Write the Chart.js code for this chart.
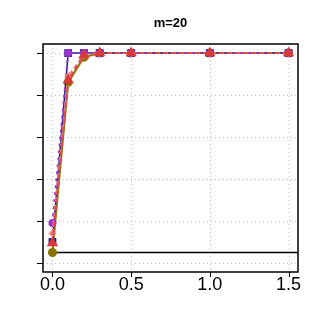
<!DOCTYPE html>
<html>
<head>
<meta charset="utf-8">
<script src="https://cdn.jsdelivr.net/npm/chart.js@4.4.1/dist/chart.umd.min.js"></script>
<style>
  html, body { margin: 0; padding: 0; background: #fff; }
  #wrap { width: 321px; height: 327px; }
</style>
</head>
<body>
<div id="wrap"><canvas id="c" width="321" height="327"></canvas></div>
<script>
const title = 'm=20';
const xValues = [0, 0.1, 0.2, 0.3, 0.5, 1.0, 1.5];
const xTicks = [0, 0.5, 1.0, 1.5];
const xTickLabels = ['0.0', '0.5', '1.0', '1.5'];
const yTicks = [0, 0.2, 0.4, 0.6, 0.8, 1.0];
const alphaLevel = 0.05;

const purpleVals = [0.19, 1, 1, 1, 1, 1, 1];
const pinkVals = [0.14, 0.89, 0.99, 1, 1, 1, 1];
const oliveVals = [0.05, 0.86, 0.98, 1, 1, 1, 1];
const blueVals = [0.10, 1, 1, 1, 1, 1, 1];
const redVals = [0.095, 0.87, 0.99, 1, 1, 1, 1];

const toPts = vals => vals.map((v, i) => ({ x: xValues[i], y: v }));

// axes, grid, box, tick marks and labels drawn like base R graphics
const frame = {
    id: 'frame',
    beforeDatasetsDraw(chart) {
        const { ctx, chartArea: a, scales: { x, y } } = chart;
        ctx.save();
        ctx.strokeStyle = '#bdbdbd';
        ctx.lineWidth = 1;
        ctx.setLineDash([1, 3]);
        xTicks.forEach(t => {
            const px = Math.round(x.getPixelForValue(t)) + 0.5;
            ctx.beginPath(); ctx.moveTo(px, a.top); ctx.lineTo(px, a.bottom); ctx.stroke();
        });
        yTicks.forEach(t => {
            const py = Math.round(y.getPixelForValue(t)) + 0.5;
            ctx.beginPath(); ctx.moveTo(a.left, py); ctx.lineTo(a.right, py); ctx.stroke();
        });
        ctx.restore();
    },
    afterDatasetsDraw(chart) {
        const { ctx, chartArea: a, scales: { x, y } } = chart;
        ctx.save();
        ctx.strokeStyle = '#000';
        ctx.lineWidth = 1.5;
        ctx.strokeRect(a.left, a.top, a.right - a.left, a.bottom - a.top);
        ctx.lineWidth = 1;
        xTicks.forEach(t => {
            const px = Math.round(x.getPixelForValue(t)) + 0.5;
            ctx.beginPath(); ctx.moveTo(px, a.bottom); ctx.lineTo(px, a.bottom + 5); ctx.stroke();
        });
        yTicks.forEach(t => {
            const py = Math.round(y.getPixelForValue(t)) + 0.5;
            ctx.beginPath(); ctx.moveTo(a.left - 6, py); ctx.lineTo(a.left, py); ctx.stroke();
        });
        ctx.fillStyle = '#000';
        ctx.font = '18px "Liberation Sans", Arial, sans-serif';
        ctx.textAlign = 'center';
        ctx.textBaseline = 'middle';
        xTicks.forEach((t, i) => ctx.fillText(xTickLabels[i], x.getPixelForValue(t), a.bottom + 13));
        ctx.font = 'bold 13px "Liberation Sans", Arial, sans-serif';
        ctx.fillText(title, (a.left + a.right) / 2, 23);
        ctx.restore();
    }
};

const dash = [5, 3];
new Chart(document.getElementById('c'), {
    type: 'scatter',
    data: {
        datasets: [
            { data: toPts(redVals), showLine: true, borderColor: '#dc4b4b', backgroundColor: '#d83a3a',
              borderDash: dash, borderWidth: 2, pointStyle: 'triangle', pointRadius: 6.5, pointBorderWidth: 0 },
            { data: toPts(pinkVals), showLine: true, borderColor: '#ee7c7c', backgroundColor: '#f08080',
              borderDash: dash, borderWidth: 2, pointStyle: 'rectRot', pointRadius: 4, pointBorderWidth: 0 },
            { data: toPts(purpleVals), showLine: true, borderColor: '#9a32cd', backgroundColor: '#9a32cd',
              borderDash: [3, 4], borderWidth: 2, pointStyle: 'circle', pointRadius: 4, pointBorderWidth: 0 },
            { data: toPts(blueVals), showLine: true, borderColor: '#1c1c8f', backgroundColor: '#1c1c8f',
              borderWidth: 1.5, pointStyle: 'rect', pointRadius: 5.5, pointBorderWidth: 0 },
            { data: toPts(oliveVals), showLine: true, borderColor: '#8b7500', backgroundColor: '#8b7500',
              borderWidth: 2, pointStyle: 'circle', pointRadius: 4.5, pointBorderWidth: 0 },
            { data: [{ x: 0, y: alphaLevel }, { x: 1.6, y: alphaLevel }], showLine: true,
              borderColor: '#000', borderWidth: 1.5, pointRadius: 0 }
        ]
    },
    options: {
        responsive: false,
        animation: false,
        layout: { padding: { left: 43, right: 23, top: 44, bottom: 55 } },
        plugins: { legend: { display: false }, tooltip: { enabled: false } },
        scales: {
            x: { type: 'linear', display: false, min: -0.06, max: 1.56 },
            y: { type: 'linear', display: false, min: -0.043, max: 1.043 }
        }
    },
    plugins: [frame]
});
</script>
</body>
</html>
